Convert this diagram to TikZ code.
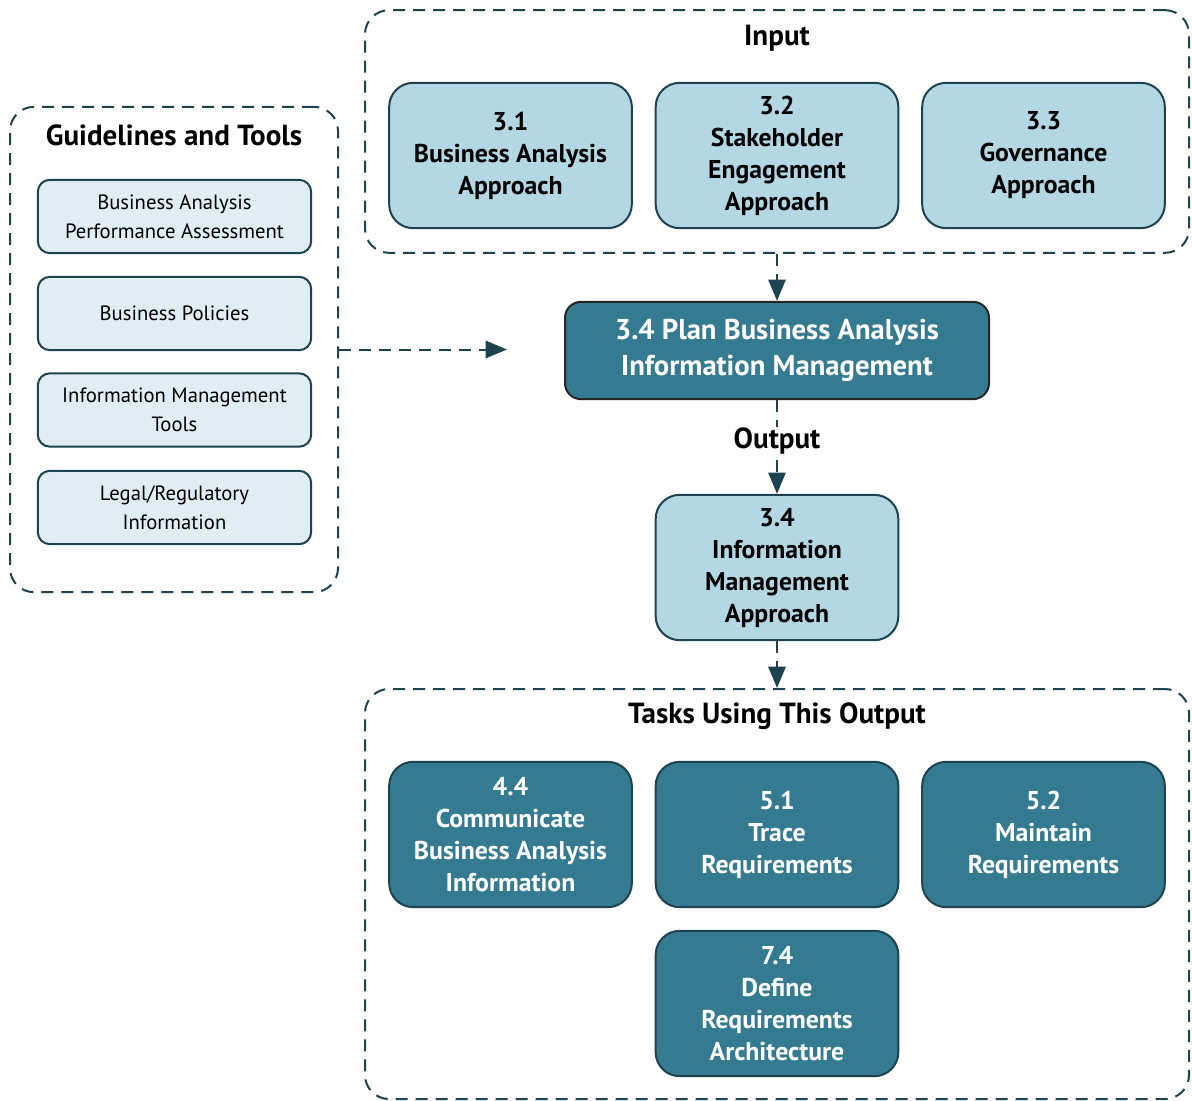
\documentclass[tikz,border=0pt]{standalone}
\usepackage{fontspec}
\setmainfont{PT Sans}
\usetikzlibrary{arrows.meta}

\definecolor{lightbox}{HTML}{B3D8E4}
\definecolor{darkbox}{HTML}{347B92}
\definecolor{palebox}{HTML}{E0EEF3}
\definecolor{edgecol}{HTML}{1D4250}

\tikzset{
  group/.style={draw=edgecol, line width=1.5pt, dash pattern=on 9pt off 6pt,
    rounded corners=18pt, inner sep=0pt},
  grouptitle/.style={font=\fontsize{21.8}{26}\selectfont\bfseries},
  task/.style={draw=edgecol, line width=1.5pt, rounded corners=18pt,
    minimum width=182pt, minimum height=109pt, align=center,
    font=\fontsize{19.3}{24}\selectfont\bfseries},
  inbox/.style={task, fill=lightbox},
  outbox/.style={task, fill=darkbox, text=white},
  tool/.style={draw=edgecol, line width=1.5pt, rounded corners=9pt, fill=palebox,
    minimum width=205pt, minimum height=55pt, align=center,
    font=\fontsize{15.5}{21.5}\selectfont},
  flow/.style={draw=edgecol, line width=1.5pt, dash pattern=on 9pt off 6pt,
    -{Triangle[width=13pt,length=16pt]}},
}

\begin{document}
\begin{tikzpicture}[x=0.75pt, y=-0.75pt]
  \useasboundingbox (0,0) rectangle (1192,1100);

  % containers
  \node[group, minimum width=246pt, minimum height=364pt] (guide) at (174,349.5) {};
  \node[group, minimum width=618pt, minimum height=182pt] (input) at (777,131.5) {};
  \node[group, minimum width=618pt, minimum height=307.5pt] (tasks) at (777,894) {};

  \node[grouptitle] (guidetitle) at (174,135) {Guidelines and Tools};
  \node[grouptitle] (inputtitle) at (777,38) {Input};
  \node[grouptitle] (taskstitle) at (777,716) {Tasks Using This Output};

  % guidelines and tools
  \node[tool] (perf) at (174.5,216.5) {Business Analysis\\Performance Assessment};
  \node[tool] (policy) at (174.5,313.5) {Business Policies};
  \node[tool] (imtools) at (174.5,410) {Information Management\\Tools};
  \node[tool] (legal) at (174.5,507.5) {Legal/Regulatory\\Information};

  % inputs
  \node[inbox] (baapp) at (510.5,155.5) {3.1\\Business Analysis\\Approach};
  \node[inbox] (stake) at (777,155.5) {3.2\\Stakeholder\\Engagement\\Approach};
  \node[inbox] (gov) at (1043.5,155.5) {3.3\\Governance\\Approach};

  % task
  \node[draw=black!85, line width=1.5pt, rounded corners=12pt, fill=darkbox, text=white,
    minimum width=318pt, minimum height=73pt, align=center,
    font=\fontsize{21.5}{27}\selectfont\bfseries] (plan) at (777,350.5)
    {3.4 Plan Business Analysis\\Information Management};

  % output
  \node[inbox] (imapp) at (777,567.5) {3.4\\Information\\Management\\Approach};

  % tasks using this output
  \node[outbox] (comm) at (510.5,834.5) {4.4\\Communicate\\Business Analysis\\Information};
  \node[outbox] (trace) at (777,834.5) {5.1\\Trace\\Requirements};
  \node[outbox] (maint) at (1043.5,834.5) {5.2\\Maintain\\Requirements};
  \node[outbox] (arch) at (777,1003.5) {7.4\\Define\\Requirements\\Architecture};

  % connectors
  \coordinate (guideend) at (507,349.5);
  \draw[flow] (guide.east) -- (guideend);
  \draw[flow] (input.south) -- (plan.north);
  \draw[flow] (plan.south) -- (imapp.north)
    node[pos=0.44, fill=white, inner sep=1pt, grouptitle] (outlabel) {Output};
  \draw[flow] (imapp.south) -- (tasks.north);
\end{tikzpicture}
\end{document}
